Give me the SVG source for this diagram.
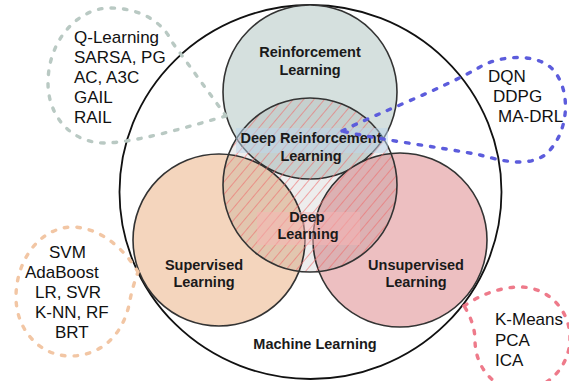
<svg xmlns="http://www.w3.org/2000/svg" width="569" height="381" viewBox="0 0 569 381">
<defs>
<pattern id="hatch" patternUnits="userSpaceOnUse" width="8" height="8" patternTransform="rotate(40)">
<line x1="0" y1="0" x2="0" y2="8" stroke="#ee6b6b" stroke-width="1.2"/>
</pattern>
</defs>
<style>
.set{stroke:#333;stroke-width:1.6}
.lbl{font-family:"Liberation Sans",Arial,Helvetica,sans-serif;font-weight:bold;font-size:14.5px;fill:#1a1a1a;text-anchor:middle}
.lst{font-family:"Liberation Sans",Arial,Helvetica,sans-serif;font-size:17px;fill:#111}
.co{fill:none;stroke-width:3.4;stroke-linecap:round;stroke-dasharray:3.5 9}
</style>
<rect width="569" height="381" fill="#fff"/>
<g id="machine-learning">
<ellipse cx="310.5" cy="192" rx="191" ry="187" fill="#fff" stroke="#111" stroke-width="1.8"/>
<text class="lbl" x="315" y="349">Machine Learning</text>
</g>
<g id="reinforcement-learning">
<circle class="set" cx="310" cy="92" r="87" fill="#d5e0de"/>
<text class="lbl" x="310" y="57">Reinforcement</text>
<text class="lbl" x="310" y="75">Learning</text>
</g>
<g id="supervised-learning">
<circle class="set" cx="219" cy="240" r="86" fill="#f4d5bd"/>
<text class="lbl" x="204" y="270">Supervised</text>
<text class="lbl" x="204" y="287">Learning</text>
</g>
<g id="unsupervised-learning">
<circle class="set" cx="400" cy="240" r="87" fill="#edbfc1"/>
<text class="lbl" x="416" y="270">Unsupervised</text>
<text class="lbl" x="416" y="287">Learning</text>
</g>
<g id="deep-learning">
<circle cx="310" cy="185" r="87" fill="#000" fill-opacity="0.07"/>
<circle class="set" cx="310" cy="185" r="87" fill="url(#hatch)"/>
<rect x="257" y="212" width="103" height="33" fill="#f7b4b4" fill-opacity="0.5"/>
<text class="lbl" x="307" y="222">Deep</text>
<text class="lbl" x="308" y="239">Learning</text>
</g>
<g id="deep-reinforcement-learning">
<rect x="236" y="128" width="152" height="25" fill="#bcd6ec" fill-opacity="0.5"/>
<text class="lbl" x="311" y="143">Deep Reinforcement</text>
<text class="lbl" x="311" y="161">Learning</text>
</g>
<g id="connectors">
<path id="rl-callout" class="co" stroke="#b9c9c3" d="M226,116 C190,126 140,142 105,143 C70,143 48,115 48,83 C48,40 78,8 110,8 C140,8 163,22 172,42 L226,116"/>
<path id="drl-callout" class="co" stroke="#5c5cdc" d="M342,131 C380,112 440,90 480,67 C500,55 540,52 555,72 C572,95 568,135 545,155 C525,168 500,160 480,155 C440,147 380,140 342,131"/>
<path id="sl-callout" class="co" stroke="#f2c6a4" d="M138,272 C128,255 105,228 73,227 C40,227 16,260 16,297 C16,330 40,356 70,356 C105,356 125,330 130,300 C132,290 135,280 138,272"/>
<path id="ul-callout" class="co" stroke="#ee7a8a" d="M464,306 C480,295 500,287 520,287 C548,287 570,310 570,338 C570,366 548,390 520,390 C495,390 475,368 475,340 C475,328 470,315 464,306"/>
</g>
<g id="rl-methods">
<text class="lst" x="74" y="43">Q-Learning</text>
<text class="lst" x="74" y="63">SARSA, PG</text>
<text class="lst" x="74" y="83">AC, A3C</text>
<text class="lst" x="74" y="103">GAIL</text>
<text class="lst" x="74" y="123">RAIL</text>
</g>
<g id="drl-methods">
<text class="lst" x="488" y="82" font-size="16.5">DQN</text>
<text class="lst" x="493" y="102" font-size="16.5">DDPG</text>
<text class="lst" x="498" y="122" font-size="16.5">MA-DRL</text>
</g>
<g id="sl-methods">
<text class="lst" x="49" y="258">SVM</text>
<text class="lst" x="25" y="278">AdaBoost</text>
<text class="lst" x="35" y="298">LR, SVR</text>
<text class="lst" x="35" y="318">K-NN, RF</text>
<text class="lst" x="55" y="338">BRT</text>
</g>
<g id="ul-methods">
<text class="lst" x="495" y="325">K-Means</text>
<text class="lst" x="495" y="346">PCA</text>
<text class="lst" x="495" y="366">ICA</text>
</g>
</svg>
